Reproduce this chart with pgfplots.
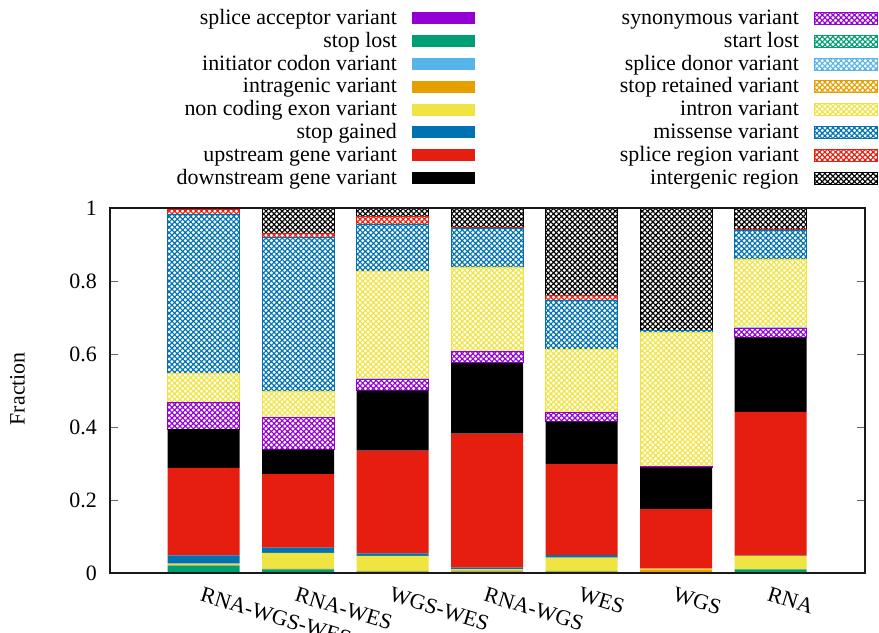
\documentclass[border=0pt]{standalone}
\usepackage{fontspec}
\setmainfont{Liberation Serif}
\usepackage{pgfplots}
\pgfplotsset{compat=1.18}
\usetikzlibrary{patterns.meta}
\definecolor{gpPurple}{HTML}{9400D3}
\definecolor{gpGreen}{HTML}{009E73}
\definecolor{gpSky}{HTML}{56B4E9}
\definecolor{gpOrange}{HTML}{E69F00}
\definecolor{gpYellow}{HTML}{F0E442}
\definecolor{gpBlue}{HTML}{0072B2}
\definecolor{gpRed}{HTML}{E51E10}
\definecolor{gpBlack}{HTML}{000000}
\tikzset{
  solidbar/.style={fill=#1, draw=none},
  hatchbar/.style={draw=#1, line width=0.9bp, pattern={Hatch[angle=45,distance=3.8bp,line width=1.15bp]}, pattern color=#1},
}
\newcommand{\bigfont}{\fontsize{22}{26}\selectfont}
\begin{document}
\begin{tikzpicture}
\path[use as bounding box] (-110bp,-60bp) rectangle (769bp,573bp);
\begin{axis}[
  scale only axis, width=755bp, height=365bp,
  ybar stacked, bar width=72bp,
  xmin=-0.99, xmax=7.0, ymin=0, ymax=1,
  axis on top,
  xtick={0,1,2,3,4,5,6},
  xticklabels={RNA-WGS-WES,RNA-WES,WGS-WES,RNA-WGS,WES,WGS,RNA},
  xtick style={draw=none},
  ytick={0,0.2,0.4,0.6,0.8,1},
  ytick pos=both,
  tick align=inside,
  major tick length=8bp,
  ytick style={black!60, line width=0.8bp},
  axis line style={line width=1.3bp, black!90},
  /pgf/number format/assume math mode=true,
  tick label style={font=\bigfont},
  yticklabel style={inner sep=0pt, xshift=-13bp},
  xticklabel style={rotate=-17, anchor=north west, inner sep=0pt, yshift=-13bp, xshift=4bp},
  ylabel={Fraction},
  ylabel style={font=\bigfont, at={(axis description cs:-0.1225,0.505)}, anchor=center},
  legend image code/.code={\path[#1] (0bp,-6bp) rectangle (63bp,6bp);},
  legend plot pos=right,
  legend columns=8,
  transpose legend,
  legend cell align=right,
  legend style={at={(axis description cs:1.0172,1.551)}, anchor=north east,
    draw=none, fill=none, inner sep=0pt, font=\bigfont, row sep=0pt,
    nodes={inner sep=1bp, text height=16.5bp, text depth=4.3bp},
    /tikz/every odd column/.append style={column sep=14bp},
    /tikz/every even column/.append style={column sep=144bp}},
]
% 1 splice acceptor (legend only)
\addlegendimage{solidbar=gpPurple}
\addlegendentry{splice acceptor variant}
% 2 stop lost
\addplot[solidbar=gpGreen] coordinates {(0,0.020) (1,0.010) (2,0.004) (3,0.004) (4,0.004) (5,0.001) (6,0.010)};
\addlegendentry{stop lost}
% 3 initiator codon (legend only)
\addlegendimage{solidbar=gpSky}
\addlegendentry{initiator codon variant}
% 4 intragenic
\addplot[solidbar=gpOrange] coordinates {(0,0.003) (1,0.002) (2,0.002) (3,0.003) (4,0.002) (5,0.008) (6,0.000)};
\addlegendentry{intragenic variant}
% 5 non coding exon
\addplot[solidbar=gpYellow] coordinates {(0,0.003) (1,0.043) (2,0.0406) (3,0.003) (4,0.036) (5,0.003) (6,0.0366)};
\addlegendentry{non coding exon variant}
% 6 stop gained
\addplot[solidbar=gpBlue] coordinates {(0,0.0225) (1,0.0146) (2,0.0074) (3,0.005) (4,0.007) (5,0.000) (6,0.001)};
\addlegendentry{stop gained}
% 7 upstream
\addplot[solidbar=gpRed] coordinates {(0,0.2395) (1,0.2016) (2,0.281) (3,0.3667) (4,0.2496) (5,0.1633) (6,0.394)};
\addlegendentry{upstream gene variant}
% 8 downstream
\addplot[solidbar=gpBlack] coordinates {(0,0.106) (1,0.067) (2,0.1645) (3,0.1943) (4,0.116) (5,0.1142) (6,0.203)};
\addlegendentry{downstream gene variant}
% 9 synonymous
\addplot[hatchbar=gpPurple] coordinates {(0,0.0745) (1,0.088) (2,0.0315) (3,0.030) (4,0.0264) (5,0.002) (6,0.025)};
\addlegendentry{synonymous variant}
% 10 start lost (legend only)
\addlegendimage{hatchbar=gpGreen}
\addlegendentry{start lost}
% 11 splice donor
\addplot[forget plot, fill=gpSky!70, draw=none] coordinates {(0,0) (1,0) (2,0.002) (3,0) (4,0) (5,0) (6,0.004)};
\addlegendimage{hatchbar=gpSky}
\addlegendentry{splice donor variant}
% 12 stop retained (legend only)
\addlegendimage{hatchbar=gpOrange}
\addlegendentry{stop retained variant}
% 13 intron
\addplot[hatchbar=gpYellow] coordinates {(0,0.0775) (1,0.071) (2,0.2925) (3,0.2305) (4,0.171) (5,0.3665) (6,0.1845)};
\addlegendentry{intron variant}
% 14 missense
\addplot[hatchbar=gpBlue] coordinates {(0,0.435) (1,0.423) (2,0.1295) (3,0.1075) (4,0.134) (5,0.006) (6,0.0805)};
\addlegendentry{missense variant}
% 15 splice region
\addplot[hatchbar=gpRed] coordinates {(0,0.015) (1,0.011) (2,0.021) (3,0.003) (4,0.014) (5,0.001) (6,0.0035)};
\addlegendentry{splice region variant}
% 16 intergenic
\addplot[hatchbar=gpBlack] coordinates {(0,0.004) (1,0.0688) (2,0.024) (3,0.053) (4,0.240) (5,0.335) (6,0.0589)};
\addlegendentry{intergenic region}
\end{axis}
\end{tikzpicture}
\end{document}
